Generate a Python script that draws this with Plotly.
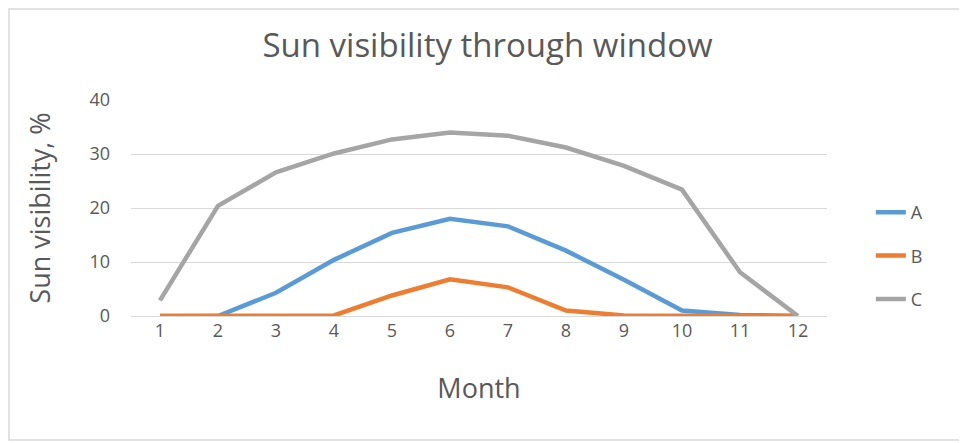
import plotly.graph_objects as go

months = list(range(1, 13))
series_a = [0, 0, 4.3, 10.4, 15.4, 18.0, 16.6, 12.1, 6.7, 1.0, 0.2, 0]
series_b = [0, 0, 0, 0.1, 3.8, 6.8, 5.3, 1.0, 0.1, 0, 0, 0]
series_c = [2.9, 20.4, 26.6, 30.1, 32.7, 34.0, 33.4, 31.2, 27.8, 23.4, 8.1, 0]

FONT = "Open Sans"
TXT = "#595959"

fig = go.Figure()
for name, vals, color, grp in [("A", series_a, "#5b9bd5", "a"),
                               ("B", series_b, "#ed7d31", "b"),
                               ("C", series_c, "#a5a5a5", "c")]:
    fig.add_trace(go.Scatter(x=months, y=vals, name=name, mode="lines",
                             legendgroup=grp,
                             line=dict(color=color, width=4.5)))

# page body adds an 8px offset, so the figure is 8px smaller than the window
fig.update_layout(
    width=959, height=435,
    template="none",
    paper_bgcolor="white", plot_bgcolor="white",
    margin=dict(l=123, r=140, t=92, b=127),
    title=dict(text="Sun visibility through window", x=0.5, xanchor="center",
               y=0.915, yanchor="middle",
               font=dict(family=FONT, size=33, color=TXT)),
    font=dict(family=FONT, size=18, color=TXT),
    showlegend=True,
    legend=dict(x=1.063, y=0.278, xanchor="left", yanchor="middle",
                traceorder="grouped", tracegroupgap=17,
                font=dict(family=FONT, size=18, color=TXT),
                bgcolor="rgba(0,0,0,0)"),
    xaxis=dict(range=[0.5, 12.5], tickvals=months, showgrid=False,
               zeroline=False, showline=False, ticks="",
               tickfont=dict(size=18, color=TXT), ticklabelstandoff=2,
               title=dict(text="Month", font=dict(size=27, color=TXT), standoff=38)),
    yaxis=dict(range=[0, 40], dtick=10, showgrid=True, gridcolor="#d9d9d9",
               gridwidth=1, zeroline=True, zerolinecolor="#d9d9d9", zerolinewidth=1,
               showline=False, ticks="", ticklen=0,
               tickfont=dict(size=18, color=TXT), ticklabelstandoff=20,
               title=dict(text="Sun visibility, %", font=dict(size=27, color=TXT), standoff=30)),
    shapes=[dict(type="rect", xref="paper", yref="paper",
                 x0=-0.1753, x1=1.1968, y0=-0.574, y1=1.4213,
                 line=dict(color="#d9d9d9", width=1.5), fillcolor="rgba(0,0,0,0)",
                 layer="below")],
)

fig.write_html("out.html")
